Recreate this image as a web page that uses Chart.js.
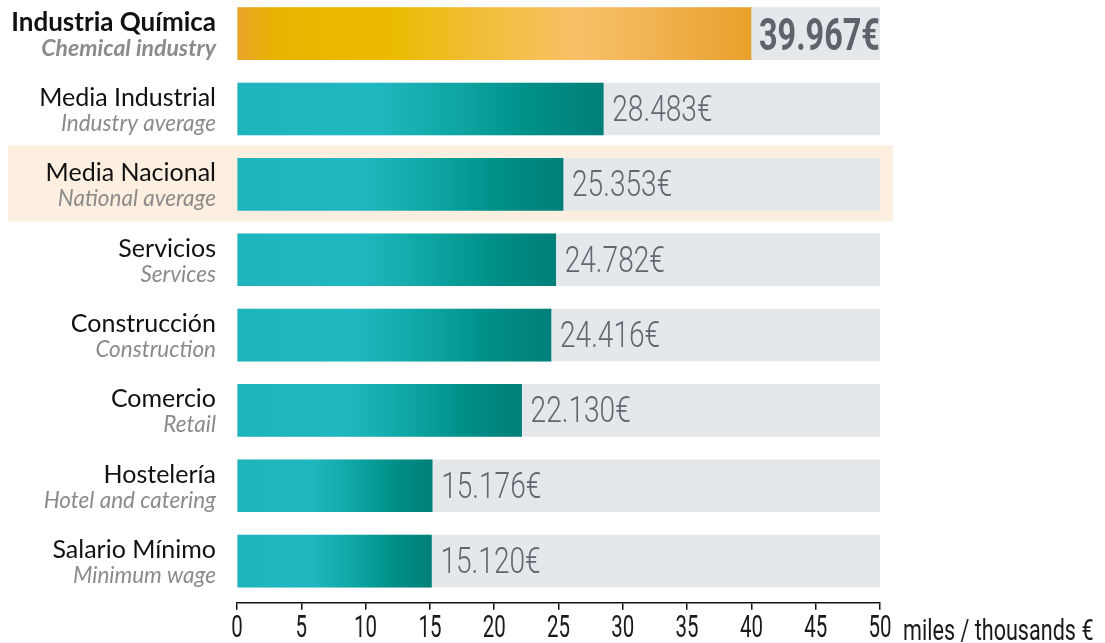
<!DOCTYPE html>
<html>
<head>
<meta charset="utf-8">
<script src="https://cdn.jsdelivr.net/npm/chart.js@4/dist/chart.umd.min.js"></script>
<style>
html, body { margin: 0; padding: 0; background: #fff; overflow: hidden; }
#wrap { position: absolute; left: 0; top: -4px; width: 1105px; height: 647px; }
</style>
</head>
<body>
<div id="wrap"><canvas id="barChart"></canvas></div>
<script>
// data
const categories = ['Industria Química', 'Media Industrial', 'Media Nacional', 'Servicios', 'Construcción', 'Comercio', 'Hostelería', 'Salario Mínimo'];
const categoriesEn = ['Chemical industry', 'Industry average', 'National average', 'Services', 'Construction', 'Retail', 'Hotel and catering', 'Minimum wage'];
const salaries = [39967, 28483, 25353, 24782, 24416, 22130, 15176, 15120];
const fullScale = [50, 50, 50, 50, 50, 50, 50, 50];
const xTicks = [0, 5, 10, 15, 20, 25, 30, 35, 40, 45, 50];
const axisUnit = 'miles / thousands €';
const highlightRow = 2;

const labelFont = "Lato, 'Noto Sans', sans-serif";

const tealStops = [[0, '#1eb4bc'], [0.38, '#20b8c0'], [0.6, '#0ea6a3'], [0.8, '#008f89'], [1, '#007f79']];
const goldStops = [[0, '#e8a42a'], [0.08, '#e9b400'], [0.3, '#ecbb00'], [0.45, '#f1bd30'], [0.66, '#f8c167'], [0.82, '#f1b14f'], [1, '#e8a12a']];

function euro(v) {
    return String(v).replace(/\B(?=(\d{3})+(?!\d))/g, '.') + '€';
}

function barFill(ctx) {
    const chart = ctx.chart;
    if (!chart.chartArea) return '#1eb4bc';
    const xs = chart.scales.x;
    const x0 = xs.getPixelForValue(0);
    const x1 = xs.getPixelForValue(salaries[ctx.dataIndex] / 1000);
    const g = chart.ctx.createLinearGradient(x0, 0, x1, 0);
    const stops = ctx.dataIndex === 0 ? goldStops : tealStops;
    stops.forEach(s => g.addColorStop(s[0], s[1]));
    return g;
}

// squeeze text horizontally (the original uses a condensed face)
function drawText(c, text, x, y, font, color, align, sx) {
    c.save();
    c.font = font;
    c.fillStyle = color;
    c.textAlign = align;
    c.textBaseline = 'alphabetic';
    c.translate(x, y);
    c.scale(sx, 1);
    c.fillText(text, 0, 0);
    c.restore();
}

const rowBand = {
    id: 'rowBand',
    beforeDraw(chart) {
        const c = chart.ctx;
        const cy = chart.scales.y.getPixelForValue(highlightRow);
        c.save();
        c.fillStyle = '#fcefdf';
        c.fillRect(8, cy - 39, 885, 76);
        c.restore();
    }
};

// no condensed face installed: narrow the axis tick labels while the scales draw
const narrowTicks = {
    id: 'narrowTicks',
    beforeDraw(chart) {
        const c = chart.ctx;
        const orig = c.fillText;
        c._origFillText = orig;
        c.fillText = function (text, x, y, maxW) {
            this.save();
            this.translate(x, y);
            this.scale(0.66, 1);
            orig.call(this, text, 0, 0);
            this.restore();
        };
    },
    beforeDatasetsDraw(chart) {
        const c = chart.ctx;
        if (c._origFillText) {
            c.fillText = c._origFillText;
            delete c._origFillText;
        }
    }
};

const labels = {
    id: 'labels',
    afterDraw(chart) {
        const c = chart.ctx;
        const ys = chart.scales.y;
        const xs = chart.scales.x;
        categories.forEach((name, i) => {
            const cy = ys.getPixelForValue(i);
            if (i === 0) {
                drawText(c, name, 216, cy - 3, 'bold 26px ' + labelFont, '#111', 'right', 1);
                drawText(c, categoriesEn[i], 216, cy + 22, 'italic bold 23px ' + labelFont, '#8b8b8b', 'right', 1);
                drawText(c, euro(salaries[i]), xs.getPixelForValue(salaries[i] / 1000) + 8, cy + 16, 'bold 45px Roboto', '#5e626a', 'left', 0.72);
            } else {
                drawText(c, name, 216, cy - 3, '25px ' + labelFont, '#111', 'right', 1);
                drawText(c, categoriesEn[i], 216, cy + 22, 'italic 22.5px ' + labelFont, '#8b8b8b', 'right', 1);
                drawText(c, euro(salaries[i]), xs.getPixelForValue(salaries[i] / 1000) + 9, cy + 12, '300 36px Roboto', '#62666e', 'left', 0.78);
            }
        });
        const xr = xs.getPixelForValue(50);
        drawText(c, axisUnit, xr + 23, xs.bottom - 3, '30px Roboto', '#1a1a1a', 'left', 0.72);
    }
};

new Chart(document.getElementById('barChart').getContext('2d'), {
    type: 'bar',
    data: {
        datasets: [{
            label: 'Salario medio',
            data: salaries.map((v, i) => ({ x: v / 1000, y: i })),
            backgroundColor: barFill,
            borderWidth: 0,
            barThickness: 52,
            grouped: false,
            order: 1
        }, {
            label: 'Escala',
            data: fullScale.map((v, i) => ({ x: v, y: i })),
            backgroundColor: '#e4e8eb',
            borderWidth: 0,
            barThickness: 52,
            grouped: false,
            order: 2
        }]
    },
    options: {
        indexAxis: 'y',
        responsive: true,
        maintainAspectRatio: false,
        animation: false,
        layout: { padding: { left: 237, right: 225, top: 0, bottom: 0 } },
        plugins: { legend: { display: false }, tooltip: { enabled: false } },
        scales: {
            y: { type: 'linear', min: -0.5, max: 7.553, reverse: true, offset: false, display: false },
            x: {
                type: 'linear',
                min: 0,
                max: 50,
                afterBuildTicks: s => { s.ticks = xTicks.map(v => ({ value: v })); },
                afterFit: s => { s.height = 40.2; },
                grid: { drawOnChartArea: false, drawTicks: true, tickLength: 7, color: '#111', lineWidth: 1.5 },
                border: { display: true, color: '#111', width: 1.5 },
                ticks: { color: '#1a1a1a', font: { family: 'Roboto', size: 31 }, padding: 1, maxRotation: 0, autoSkip: false }
            }
        }
    },
    plugins: [rowBand, narrowTicks, labels]
});
</script>
</body>
</html>
